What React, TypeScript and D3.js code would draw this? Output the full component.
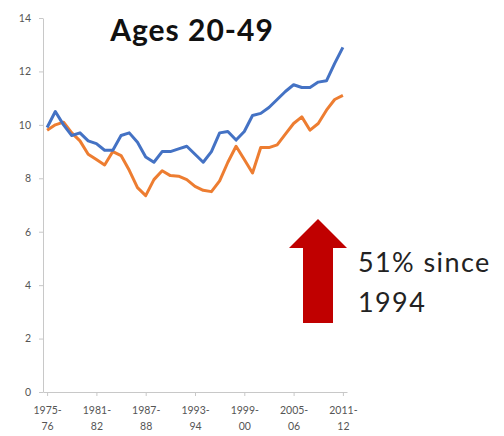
import React, { useEffect, useRef } from "react";
import * as d3 from "d3";

const categories = [
  "1975-76", "1976-77", "1977-78", "1978-79", "1979-80", "1980-81", "1981-82",
  "1982-83", "1983-84", "1984-85", "1985-86", "1986-87", "1987-88", "1988-89",
  "1989-90", "1990-91", "1991-92", "1992-93", "1993-94", "1994-95", "1995-96",
  "1996-97", "1997-98", "1998-99", "1999-00", "2000-01", "2001-02", "2002-03",
  "2003-04", "2004-05", "2005-06", "2006-07", "2007-08", "2008-09", "2009-10",
  "2010-11", "2011-12",
];

const blueValues = [
  9.9, 10.5, 10.0, 9.6, 9.7, 9.4, 9.3, 9.05, 9.05, 9.6, 9.7, 9.35, 8.8, 8.6,
  9.0, 9.0, 9.1, 9.2, 8.9, 8.6, 9.0, 9.7, 9.75, 9.43, 9.75, 10.35, 10.43, 10.65,
  10.95, 11.25, 11.5, 11.4, 11.4, 11.6, 11.65, 12.3, 12.9,
];

const orangeValues = [
  9.8, 10.0, 10.1, 9.7, 9.4, 8.9, 8.7, 8.5, 9.0, 8.85, 8.3, 7.65, 7.35, 7.95,
  8.28, 8.1, 8.08, 7.95, 7.7, 7.55, 7.5, 7.9, 8.6, 9.2, 8.7, 8.2, 9.15, 9.15,
  9.25, 9.65, 10.05, 10.3, 9.8, 10.05, 10.55, 10.95, 11.1,
];

const xTickLabels = ["1975-76", "1981-82", "1987-88", "1993-94", "1999-00", "2005-06", "2011-12"];
const yTicks = [0, 2, 4, 6, 8, 10, 12, 14];

const title = "Ages 20-49";
const noteLines = ["51% since", "1994"];

const W = 504;
const H = 436;
const FONT = "Lato, 'Open Sans', sans-serif";

const App = () => {
  const svgRef = useRef<SVGSVGElement>(null);

  useEffect(() => {
    const svg = d3.select(svgRef.current);
    svg.selectAll("*").remove();

    const x = d3.scalePoint().domain(categories).range([43, 347]).padding(0.5);
    const y = d3.scaleLinear().domain([0, 14]).range([392, 18]);

    // y axis
    const yAxis = svg
      .append("g")
      .attr("transform", "translate(43,0)")
      .call(d3.axisLeft(y).tickValues(yTicks).tickSize(4).tickSizeOuter(0).tickPadding(8));
    yAxis.select(".domain").attr("stroke", "#c8c8c8");
    yAxis.selectAll(".tick line").attr("stroke", "#c8c8c8");
    yAxis
      .selectAll(".tick text")
      .attr("fill", "#555")
      .attr("font-size", 10.5)
      .attr("font-family", FONT);

    // x axis
    const xAxis = svg
      .append("g")
      .attr("transform", "translate(0,392)")
      .call(d3.axisBottom(x).tickValues(xTickLabels).tickSize(4).tickSizeOuter(0).tickFormat(() => ""));
    xAxis.select(".domain").attr("stroke", "#c8c8c8");
    xAxis.selectAll(".tick line").attr("stroke", "#c8c8c8");
    xAxis.selectAll(".tick").each(function (d: any) {
      const [a, b] = d.split("-");
      const t = d3
        .select(this)
        .append("text")
        .attr("fill", "#555")
        .attr("font-size", 10.5)
        .attr("font-family", FONT)
        .attr("text-anchor", "middle");
      t.append("tspan").attr("x", 0).attr("y", 22).text(a + "-");
      t.append("tspan").attr("x", 0).attr("y", 38).text(b);
    });

    // lines
    const line = d3
      .line<number>()
      .x((_, i) => x(categories[i]))
      .y((v) => y(v));

    svg
      .append("path")
      .datum(orangeValues)
      .attr("fill", "none")
      .attr("stroke", "#ED7D31")
      .attr("stroke-width", 3)
      .attr("stroke-linejoin", "round")
      .attr("d", line);

    svg
      .append("path")
      .datum(blueValues)
      .attr("fill", "none")
      .attr("stroke", "#4472C4")
      .attr("stroke-width", 3)
      .attr("stroke-linejoin", "round")
      .attr("d", line);

    // title
    svg
      .append("text")
      .attr("x", 192)
      .attr("y", 41)
      .attr("text-anchor", "middle")
      .attr("font-family", FONT)
      .attr("font-weight", "bold")
      .attr("font-size", 30)
      .attr("letter-spacing", 1)
      .attr("fill", "#111")
      .text(title);

    // arrow annotation
    svg
      .append("path")
      .attr("d", "M303,323 L333,323 L333,248 L347,248 L318,219 L289,248 L303,248 Z")
      .attr("fill", "#C00000");

    svg
      .append("g")
      .selectAll("text")
      .data(noteLines)
      .join("text")
      .attr("x", 358)
      .attr("y", (_, i) => 272 + i * 40)
      .attr("font-family", FONT)
      .attr("font-size", 27)
      .attr("letter-spacing", 1.4)
      .attr("fill", "#222")
      .text((d) => d);
  }, []);

  return (
    <svg
      ref={svgRef}
      width={W}
      height={H}
      style={{ position: "absolute", left: 0, top: 0, background: "#fff" }}
    ></svg>
  );
};

export default App;
